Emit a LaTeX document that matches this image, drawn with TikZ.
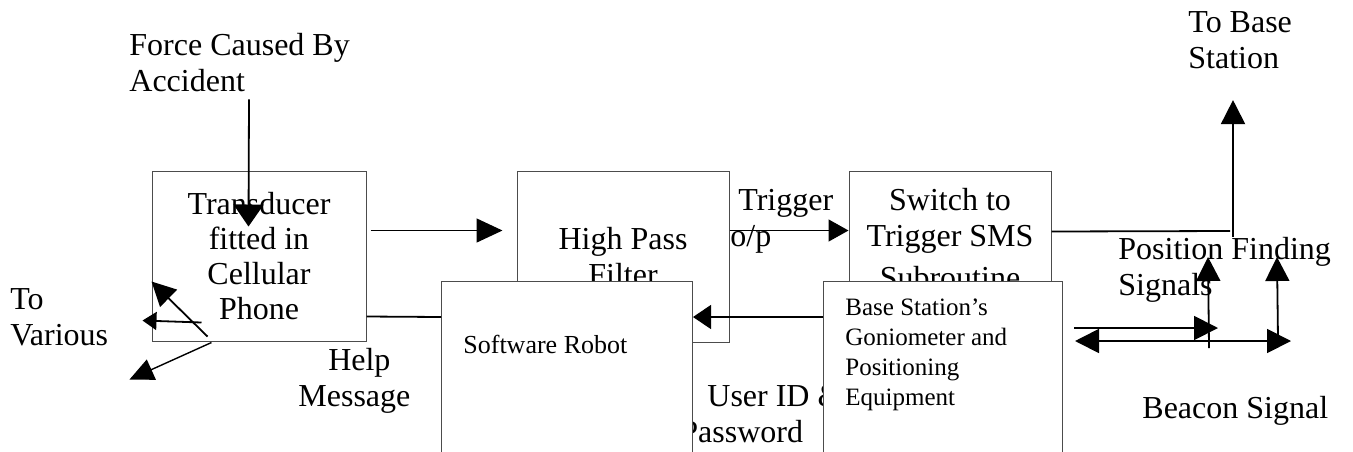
\documentclass[tikz,border=0pt]{standalone}
\usepackage{fontspec}
\setmainfont{Liberation Serif}
\usetikzlibrary{arrows.meta,calc}
\begin{document}
\begin{tikzpicture}[x=0.5pt,y=-0.5pt,
  box/.style={draw=black!70, line width=0.5pt, fill=white, rectangle, inner sep=0pt},
  big/.style={font=\fontsize{16}{18}\selectfont},
  small/.style={font=\fontsize{12.5}{15}\selectfont},
  lbl/.style={inner sep=0pt, anchor=north west, align=left},
  arr/.style={line width=0.9pt, -{Triangle[length=12pt,width=12pt]}},
  ln/.style={line width=0.9pt}]
\useasboundingbox[fill=white] (0,0) rectangle (1353,451);

% upper boxes
\node[box, font=\fontsize{16}{17.5}\selectfont, align=center, minimum width=107pt, minimum height=85pt] (trans) at (259,256) {Transducer\\fitted in\\Cellular\\Phone};
\node[box, big, align=center, minimum width=106pt, minimum height=85.5pt] (hpf) at (623,256.5) {High Pass\\Filter};
\node[box, big, align=center, minimum width=101pt, minimum height=68pt] (switch) at (950,239) {Switch to\\Trigger SMS\\[3pt]Subroutine};

% labels
\node[lbl, big] (force) at (129,33) {Force Caused By\\Accident};
\node[lbl, big] (tobase) at (1188,11) {To Base\\Station};
\node[lbl, big] (trig) at (730,189) {\hspace*{4pt}Trigger\\o/p};
\node[lbl, big] (posf) at (1118,237) {Position Finding\\Signals};
\node[lbl, big] (beacon) at (1142,396) {Beacon Signal};
\node[lbl, big, align=center] (help) at (298,348) {\hspace*{5pt}Help\\Message};
\node[lbl, big] (various) at (10,288) {To\\Various};
\node[lbl, big] (userid) at (680,385) {\hspace*{13.5pt}User ID \&\\Password};

% lower boxes
\node[box, anchor=north west, minimum width=125.5pt, minimum height=100pt] (robot) at (441,281) {};
\node[box, anchor=north west, minimum width=119.5pt, minimum height=100pt] (base) at (823,281) {};
\node[lbl, font=\fontsize{13}{15}\selectfont] (robottext) at (463,335) {Software Robot};
\node[lbl, small] (basetext) at (845,298) {Base Station’s\\Goniometer and\\Positioning\\Equipment};

% connectors
\draw[line width=0.9pt, -{Triangle[length=11pt,width=15pt]}] ($(force.south west)+(120,7)$) -- ($(trans.north west)+(97,56)$);
\draw[line width=0.7pt, -{Triangle[length=13pt,width=12pt]}] ($(trans.north east)+(4,60)$) -- ($(hpf.north west)+(-14,60)$);
\draw[line width=0.7pt, -{Triangle[length=10pt,width=11pt]}] ($(hpf.north east)+(0,60)$) -- ($(switch.north west)+(0,60)$);

\coordinate (corner) at (1230,231);
\draw[ln] ($(switch.north east)+(0,61)$) -- (corner);
\draw[arr] ($(corner)+(3,6)$) -- ($(tobase.south west)+(45,31)$);

\draw[ln] ($(trans.north east)+(0,146)$) -- ($(robot.north west)+(0,36)$);
\draw[line width=0.7pt, -{Triangle[length=9pt,width=12pt]}] ($(base.north west)+(0,36)$) -- ($(robot.north east)+(0,36)$);

% arrows to various
\coordinate (tsw) at (trans.south west);
\draw[line width=0.9pt, -{Triangle[length=12pt,width=12pt]}] ($(tsw)+(56,-5)$) -- ($(tsw)+(0,-60)$);
\draw[line width=0.9pt, -{Triangle[length=7pt,width=9pt]}] ($(tsw)+(50,-19)$) -- ($(tsw)+(-9,-21)$);
\draw[line width=0.7pt, -{Triangle[length=12pt,width=11pt]}] ($(tsw)+(60,1)$) -- ($(tsw)+(-22,38)$);

% beacon / position finding
\coordinate (bne) at (base.north east);
\draw[arr] ($(bne)+(11,47)$) -- ($(bne)+(155,47)$);
\draw[line width=0.9pt, {Triangle[length=12pt,width=12pt]}-{Triangle[length=12pt,width=12pt]}] ($(bne)+(12,60)$) -- ($(bne)+(228,60)$);
\draw[arr] ($(bne)+(146,67)$) -- ($(posf.north west)+(90,20)$);
\draw[arr] ($(bne)+(215,59)$) -- ($(posf.north west)+(159,20)$);
\end{tikzpicture}
\end{document}
